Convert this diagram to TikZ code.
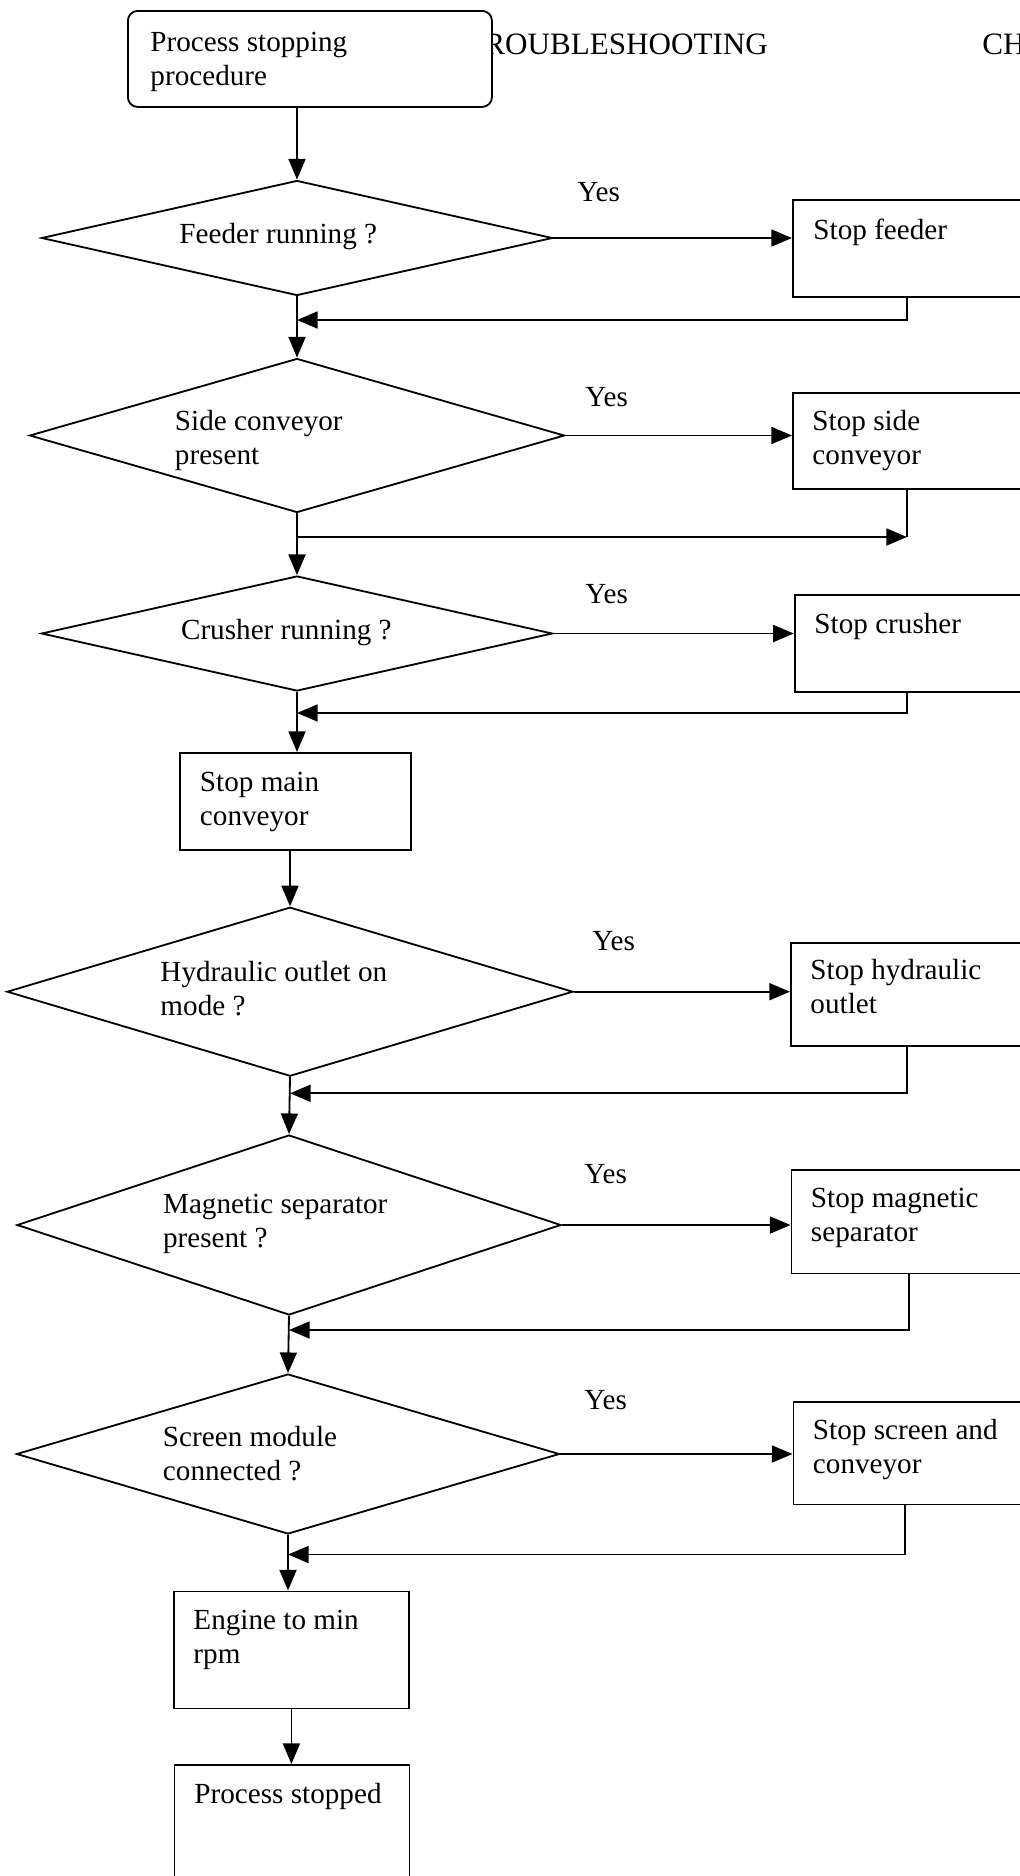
\documentclass[tikz,border=0pt]{standalone}
\usepackage{fontspec}
\setmainfont{Liberation Serif}
\usetikzlibrary{shapes.geometric,arrows.meta,calc}
\def\pxu{0.4115pt}
\newcommand\twol[2]{\vtop{\baselineskip=14pt\hbox{#1}\hbox{#2}}}
\tikzset{
  ln/.style={line width=0.75pt},
  arr/.style={ln,-{Triangle[length=8.5pt,width=7pt]}},
  dec/.style={diamond,draw,ln,inner sep=0pt},
  boxx/.style={draw,ln,rectangle,inner sep=0pt,anchor=north west},
  txt/.style={anchor=base west,inner sep=0pt,font=\fontsize{12}{14}\selectfont},
  hdr/.style={anchor=base west,inner sep=0pt,font=\fontsize{12.8}{15}\selectfont}
}
\begin{document}
\begin{tikzpicture}[x=0.4115pt,y=-0.4115pt]
\useasboundingbox (0,0) rectangle (1020,1876);
\clip (0,0) rectangle (1020,1876);
\fill[white] (0,0) rectangle (1020,1876);

% header
\node[hdr] (hd) at (484,54) {ROUBLESHOOTING};
\node[hdr] (ch) at (982,54) {CH};

% start
\node[boxx,rounded corners=4pt,fill=white,minimum width=364*\pxu,minimum height=96*\pxu] (start) at (127,10) {};
\node[txt] (tstart) at (150,51) {\twol{Process stopping}{procedure}};

% decision 1
\node[dec,minimum width=511*\pxu,minimum height=115*\pxu] (d1) at (297,238) {};
\node[txt] (td1) at (179,243) {Feeder running ?};
\node[boxx,minimum width=320*\pxu,minimum height=97*\pxu] (b1) at (792,199) {};
\node[txt] (tb1) at (813,239) {Stop feeder};
\node[txt] (y1) at (577,201) {Yes};

% decision 2
\node[dec,minimum width=535*\pxu,minimum height=154*\pxu] (d2) at (297,435.5) {};
\node[txt] (td2) at (174.5,430) {\twol{Side conveyor}{present}};
\node[boxx,minimum width=320*\pxu,minimum height=96*\pxu] (b2) at (792,392) {};
\node[txt] (tb2) at (812,430) {\twol{Stop side}{conveyor}};
\node[txt] (y2) at (585,406) {Yes};

% decision 3
\node[dec,minimum width=511*\pxu,minimum height=115*\pxu] (d3) at (297,633.5) {};
\node[txt] (td3) at (180.6,639) {Crusher running ?};
\node[boxx,minimum width=320*\pxu,minimum height=97*\pxu] (b3) at (793.8,594.3) {};
\node[txt] (tb3) at (814,633) {Stop crusher};
\node[txt] (y3) at (585,603) {Yes};

% stop main conveyor
\node[boxx,minimum width=231*\pxu,minimum height=97*\pxu] (m) at (179.4,752) {};
\node[txt] (tm) at (199.5,791) {\twol{Stop main}{conveyor}};

% decision 4
\node[dec,minimum width=566*\pxu,minimum height=169*\pxu] (d4) at (290,991.7) {};
\node[txt] (td4) at (160,981.7) {\twol{Hydraulic outlet on}{mode ?}};
\node[boxx,minimum width=320*\pxu,minimum height=103*\pxu] (b4) at (790,941.7) {};
\node[txt] (tb4) at (810,979.3) {\twol{Stop hydraulic}{outlet}};
\node[txt] (y4) at (592,950) {Yes};

% decision 5
\node[dec,minimum width=544*\pxu,minimum height=180*\pxu] (d5) at (289,1225) {};
\node[txt] (td5) at (162.6,1213) {\twol{Magnetic separator}{present ?}};
\node[boxx,minimum width=320*\pxu,minimum height=103.5*\pxu] (b5) at (790.5,1169) {};
\node[txt] (tb5) at (810.5,1207) {\twol{Stop magnetic}{separator}};
\node[txt] (y5) at (584,1183) {Yes};

% decision 6
\node[dec,minimum width=543*\pxu,minimum height=160*\pxu] (d6) at (288,1454) {};
\node[txt] (td6) at (162.5,1446) {\twol{Screen module}{connected ?}};
\node[boxx,minimum width=320*\pxu,minimum height=102.5*\pxu] (b6) at (792.5,1401) {};
\node[txt] (tb6) at (812.5,1439) {\twol{Stop screen and}{conveyor}};
\node[txt] (y6) at (584,1409) {Yes};

% engine, process stopped
\node[boxx,minimum width=235*\pxu,minimum height=117*\pxu] (e) at (173,1590.5) {};
\node[txt] (te) at (193,1629) {\twol{Engine to min}{rpm}};
\node[boxx,minimum width=235*\pxu,minimum height=200*\pxu] (p) at (173.5,1764) {};
\node[txt] (tp) at (194,1803) {Process stopped};

% return coordinates
\coordinate (r1) at (907,320);
\coordinate (r2) at (907,537);
\coordinate (r3) at (907,713);
\coordinate (r4) at (907,1093.3);
\coordinate (r5) at (909,1330);
\coordinate (r6) at (905,1554.5);

% main flow
\draw[arr] (d1.north |- start.south) -- (d1.north);
\draw[arr] (d1.south) -- (d2.north);
\draw[arr] (d2.south) -- (d3.north);
\draw[arr] (d3.south) -- (d3.south |- m.north);
\draw[arr] (d4.north |- m.south) -- (d4.north);
\draw[arr] (d4.south) -- (d5.north);
\draw[arr] (d5.south) -- (d6.north);
\draw[arr] (d6.south) -- (d6.south |- e.north);
\draw[arr] (e.south) -- (e.south |- p.north);

% yes branches
\draw[arr] (d1.east) -- (d1.east -| b1.west);
\draw[arr] (d2.east) -- (d2.east -| b2.west);
\draw[arr] (d3.east) -- (d3.east -| b3.west);
\draw[arr] (d4.east) -- (d4.east -| b4.west);
\draw[arr] (d5.east) -- (d5.east -| b5.west);
\draw[arr] (d6.east) -- (d6.east -| b6.west);

% returns
\draw[arr] (r1 |- b1.south) -- (r1) -- (r1 -| d1.south);
\draw[ln] (r2 |- b2.south) -- (r2);
\draw[arr] (r2 -| d2.south) -- (r2);
\draw[arr] (r3 |- b3.south) -- (r3) -- (r3 -| d3.south);
\draw[arr] (r4 |- b4.south) -- (r4) -- (r4 -| d4.south);
\draw[arr] (r5 |- b5.south) -- (r5) -- (r5 -| d5.south);
\draw[arr] (r6 |- b6.south) -- (r6) -- (r6 -| d6.south);
\end{tikzpicture}
\end{document}
